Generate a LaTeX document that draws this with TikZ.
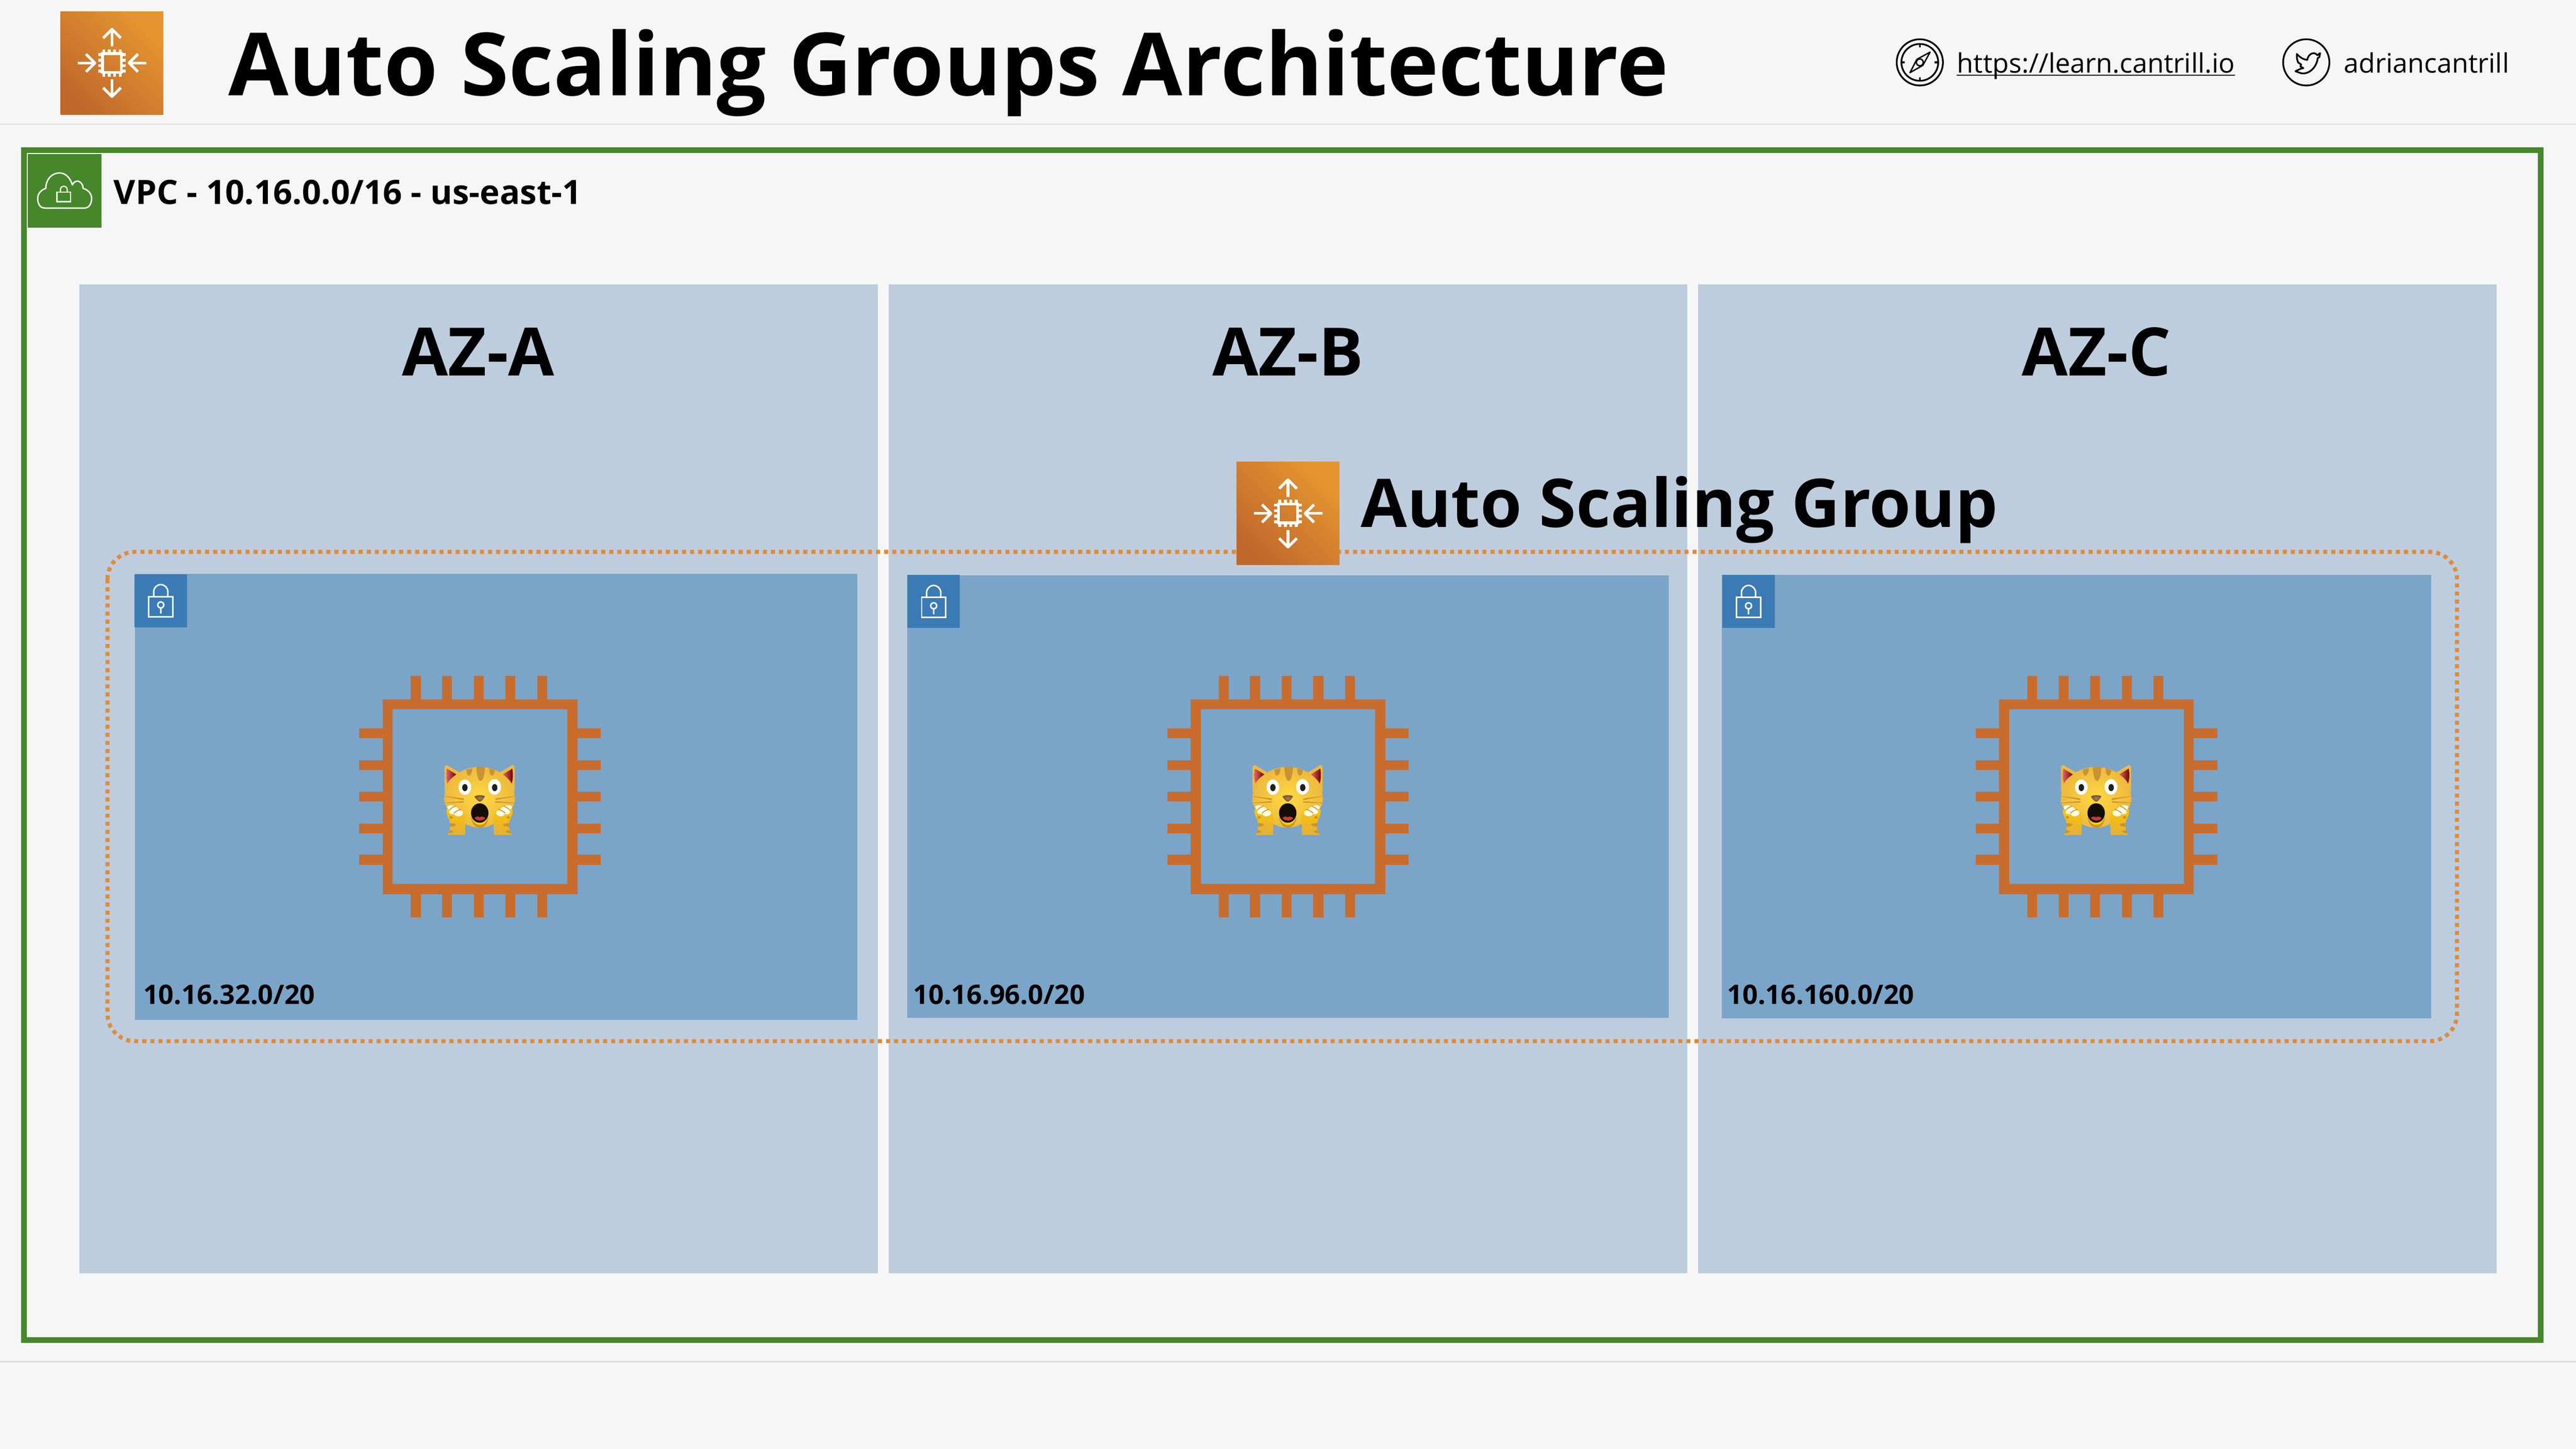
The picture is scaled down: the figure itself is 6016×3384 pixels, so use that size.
\documentclass[tikz,border=0pt]{standalone}
\usepackage{fontspec}
\setmainfont{Open Sans}

\definecolor{slidebg}{HTML}{F6F6F6}
\definecolor{rulegrey}{HTML}{DDDDDD}
\definecolor{vpcgreen}{HTML}{46872B}
\definecolor{azblue}{HTML}{BDCDDE}
\definecolor{subnetblue}{HTML}{7AA4C8}
\definecolor{lockblue}{HTML}{3B7BB5}
\definecolor{asgorange}{HTML}{E28A35}
\definecolor{chiporange}{HTML}{C86C2E}
\definecolor{catyellow}{HTML}{EDB93E}
\definecolor{catstripe}{HTML}{C99232}

\tikzset{
  titletext/.style={font=\fontsize{50.95pt}{60pt}\selectfont\bfseries,anchor=base west,inner sep=0pt},
  vpctext/.style={font=\fontsize{19.6pt}{24pt}\selectfont\bfseries,anchor=base west,inner sep=0pt},
  aztext/.style={font=\fontsize{39pt}{46pt}\selectfont\bfseries,anchor=base,inner sep=0pt},
  asgtext/.style={font=\fontsize{39.2pt}{46pt}\selectfont\bfseries,anchor=base west,inner sep=0pt},
  subnettext/.style={font=\fontsize{15.65pt}{19pt}\selectfont\bfseries,anchor=base west,inner sep=0pt},
  linktext/.style={font=\fontsize{15.65pt}{19pt}\selectfont,anchor=base west,inner sep=0pt},
  % auto scaling icon, coordinates are 3x
  pics/asgicon/.style={code={
    \shade[bottom color=chiporange!96!black,top color=asgorange!90!yellow,shading angle=-45] (-360,-361) rectangle (360,361);
    \foreach \a in {0,180} {
      \begin{scope}[rotate=\a]
        %left and right point in, up and down point out
        \draw[white,line width=1.6pt] (-240,0) -- (-118,0);
        \draw[white,line width=1.6pt,line join=round] (-182,-62) -- (-120,0) -- (-182,62);
        \draw[white,line width=1.6pt] (0,-116) -- (0,-236);
        \draw[white,line width=1.6pt,line join=round] (-62,-174) -- (0,-236) -- (62,-174);
      \end{scope}
    }
    \foreach \a in {0,90,180,270} {
      \begin{scope}[rotate=\a]
        \foreach \p in {-58,-19,19,58}
          \fill[white] (\p-10,-96) rectangle (\p+10,-66);
      \end{scope}
    }
    \draw[white,line width=1.6pt,fill=none] (-66,-66) rectangle (66,66);
  }},
  % subnet lock icon
  pics/lockicon/.style={code={
    \fill[lockblue] (-61.5,-62) rectangle (61.5,62);
    \draw[white,line width=0.85pt] (-28,-9.5) rectangle (28,37.5);
    \draw[white,line width=0.85pt] (-16.5,-9.5) -- (-16.5,-21) arc (180:360:16.5) -- (16.5,-9.5);
    \draw[white,line width=0.85pt] (0,10) circle (7) (0,17) -- (0,30);
  }},
  % ec2 instance chip
  pics/chipicon/.style={code={
    \draw[chiporange,line width=5.9pt] (-215.5,-215.5) rectangle (215.5,215.5);
    \foreach \p in {-150,-77,-3,71,145}
      \draw[chiporange,line width=5.8pt] (\p,-282) -- (\p,-225) (\p,225) -- (\p,282);
    \foreach \p in {-148,-74,0,74,147}
      \draw[chiporange,line width=5.8pt] (-282,\p) -- (-225,\p) (225,\p) -- (282,\p);
  }},
  % cat emoji, coordinates are 3x
  pics/catface/.style={code={
    \foreach \s in {1,-1} {
      \begin{scope}[xscale=\s]
        \fill[catyellow,line join=round] (-245,-40) -- (-246,-205) .. controls (-245,-228) and (-232,-232) .. (-222,-224) -- (-130,-170) -- cycle;
        \shade[left color=red!55!white!90!black,right color=red!40!black] (-229,-203) -- (-162,-162) .. controls (-190,-145) and (-215,-120) .. (-225,-98) .. controls (-235,-130) and (-235,-170) .. cycle;
      \end{scope}
    }
    \shade[inner color=yellow!60!orange!75!white,outer color=catyellow] (0,-215) .. controls (140,-215) and (247,-120) .. (247,15) .. controls (247,100) and (100,212) .. (0,212) .. controls (-100,212) and (-247,100) .. (-247,15) .. controls (-247,-120) and (-140,-215) .. cycle;
    %stripes
    \fill[catstripe] (-23,-214) .. controls (-20,-160) and (-10,-117) .. (7,-117) .. controls (25,-117) and (35,-160) .. (38,-214) .. controls (20,-216) and (-5,-216) .. cycle;
    \fill[catstripe] (-93,-195) .. controls (-90,-170) and (-85,-154) .. (-75,-154) .. controls (-62,-154) and (-52,-175) .. (-50,-205) .. controls (-65,-203) and (-80,-200) .. cycle;
    \fill[catstripe] (67,-205) .. controls (69,-175) and (75,-154) .. (87,-154) .. controls (97,-154) and (103,-170) .. (108,-190) .. controls (95,-197) and (80,-203) .. cycle;
    %eyes and nose
    \fill[white] (-103,-73) ellipse (44 and 54) (105,-75) ellipse (45 and 55);
    \fill[black!88] (-103,-70) ellipse (19 and 25) (106,-70) ellipse (19 and 25);
    \shade[inner color=brown!60!gray,outer color=brown!60!black] (-36,-8) .. controls (-15,-20) and (15,-20) .. (38,-10) .. controls (25,15) and (12,28) .. (2,28) .. controls (-10,28) and (-25,12) .. cycle;
    %chin and mouth
    \fill[catstripe] (-60,140) .. controls (-50,190) and (-25,212) .. (2,212) .. controls (30,212) and (55,190) .. (62,140) -- cycle;
    \fill[yellow!70!orange] (-58,130) .. controls (-50,170) and (-25,192) .. (2,192) .. controls (30,192) and (52,170) .. (60,130) -- cycle;
    \fill[black!90!brown] (1,108) ellipse (61 and 68);
    \fill[red!55!gray] (-36,142) .. controls (-25,132) and (-10,130) .. (1,138) .. controls (12,130) and (28,132) .. (40,145) .. controls (25,165) and (-20,168) .. cycle;
    \foreach \s in {1,-1} {
      \begin{scope}[xscale=\s]
        %whiskers
        \fill[catstripe] (-282,-15) -- (-110,6) -- (-112,17) -- cycle;
        \fill[catstripe] (-287,40) -- (-110,25) -- (-110,35) -- cycle;
        %arm
        \shade[top color=yellow!55!orange,bottom color=catyellow!95!black] (-225,263) -- (-102,263) -- (-98,140) .. controls (-100,105) and (-135,65) .. (-190,60) .. controls (-225,62) and (-235,85) .. (-232,105) .. controls (-228,130) and (-212,150) .. (-208,170) .. controls (-205,205) and (-205,225) .. cycle;
        \fill[catstripe] (-212,128) .. controls (-200,130) and (-188,132) .. (-186,138) .. controls (-190,146) and (-200,149) .. (-206,150) -- cycle;
        \fill[catstripe] (-208,180) .. controls (-190,178) and (-170,182) .. (-164,190) .. controls (-172,200) and (-190,204) .. (-206,204) -- cycle;
        \fill[catstripe] (-212,228) .. controls (-200,228) and (-186,232) .. (-183,238) .. controls (-190,246) and (-205,250) .. (-218,250) -- cycle;
        %claws
        \fill[white!92!yellow,rotate around={-15:(-188,75)}] (-188,75) ellipse (40 and 19);
        \fill[white!92!yellow,rotate around={15:(-178,95)}] (-178,95) ellipse (37 and 20);
        \fill[white!92!yellow,rotate around={10:(-146,110)}] (-146,110) ellipse (30 and 21);
        \draw[catstripe,line width=0.5pt] (-210,85) .. controls (-195,72) and (-185,65) .. (-168,60);
        \draw[catstripe,line width=0.5pt] (-180,110) .. controls (-165,95) and (-150,88) .. (-130,82);
      \end{scope}
    }
  }}
}

\begin{document}
\begin{tikzpicture}[x=0.25pt,y=-0.25pt]
\useasboundingbox (0,0) rectangle (6016,3384);

%draws background and header
\fill[slidebg] (0,0) rectangle (6016,3384);
\draw[rulegrey,line width=0.8pt] (0,290) -- (6016,290) (0,3181) -- (6016,3181);
\pic[scale=0.3333] at (261.5,147) {asgicon};
\node[titletext] (title) at (533,223) {Auto Scaling Groups Architecture};

%compass and link
\begin{scope}[shift={(4483.5,145.7)}]
  \draw[line width=1pt] (0,0) circle (54) (0,0) circle (43);
  \draw[line width=1pt] (0,-43) -- (0,-35) (0,43) -- (0,35) (-43,0) -- (-35,0) (43,0) -- (35,0);
  \draw[line width=0.8pt,line join=round] (24,-24) -- (7,7) -- (-23,24) -- (-7,-7) -- cycle;
  \draw[line width=0.8pt,fill=slidebg] (0,0) circle (8);
\end{scope}
\node[linktext] (weblink) at (4570,170) {https://learn.cantrill.io};
\draw[line width=0.75pt] ([yshift=-1.4pt]weblink.base west) -- ([yshift=-1.4pt]weblink.base east);

%bird and handle
\draw[line width=1pt] (5386,145.7) circle (54);
\begin{scope}[shift={(5386,145.7)},scale=0.3333]
  \draw[line width=1pt,line join=round] (-66,-59) .. controls (-45,-35) and (-20,-20) .. (7,-17) .. controls (10,-50) and (50,-85) .. (78,-50) -- (97,-65) -- (92,-37) -- (80,-30) .. controls (75,30) and (20,90) .. (-40,75) -- (-76,62) -- (-40,45) -- (-20,40) -- (-42,28) -- (-35,15) -- (-58,0) -- (-66,-30) -- cycle;
\end{scope}
\node[linktext] (handle) at (5473,170) {adriancantrill};

%vpc
\draw[vpcgreen,line width=3.25pt] (55.5,350.5) rectangle (5933.5,3130.5);
\fill[vpcgreen] (65,360) rectangle (237,532);
\draw[white,line width=0.8pt,line join=round] (105,486) .. controls (92,486) and (88,474) .. (88,463) .. controls (88,452) and (97,443) .. (107,440) .. controls (107,420) and (120,404) .. (139,404) .. controls (155,404) and (165,418) .. (169,432) .. controls (172,425) and (177,423) .. (182,423) .. controls (190,425) and (194,432) .. (194,440) .. controls (205,443) and (214,452) .. (214,463) .. controls (214,476) and (208,486) .. (197,486) -- cycle;
\draw[white,line width=0.7pt] (133,449) rectangle (165,471);
\draw[white,line width=0.7pt] (141,449) -- (141,443) arc (180:360:8) -- (157,449);
\node[vpctext] (vpclabel) at (265,477) {VPC - 10.16.0.0/16 - us-east-1};

%availability zones
\fill[azblue] (185,664) rectangle (2050,2974);
\fill[azblue] (2075,664) rectangle (3941,2974);
\fill[azblue] (3966,664) rectangle (5831,2974);
\node[aztext] (aza) at (1117,878) {AZ-A};
\node[aztext] (azb) at (3008,878) {AZ-B};
\node[aztext] (azc) at (4896,878) {AZ-C};

%auto scaling group, under the subnets
\draw[asgorange,line width=2.37pt,dash pattern=on 2.37pt off 2.35pt,rounded corners=16pt] (251,1289) rectangle (5738,2432);

%subnets
\fill[subnetblue] (315,1340) rectangle (2002,2382);
\fill[subnetblue] (2119,1344) rectangle (3897,2378);
\fill[subnetblue] (4021,1343) rectangle (5678,2379);
\pic at (375.5,1403) {lockicon};
\pic at (2180.5,1405) {lockicon};
\pic at (4083.5,1405) {lockicon};
\node[subnettext] (neta) at (334,2346) {10.16.32.0/20};
\node[subnettext] (netb) at (2132,2346) {10.16.96.0/20};
\node[subnettext] (netc) at (4033,2346) {10.16.160.0/20};

%instances
\foreach \x in {1121,3008,4896} {
  \pic at (\x,1861) {chipicon};
  \pic[scale=0.3333] at (\x-1,1863) {catface};
}

%asg label on top
\pic[scale=0.3333] at (3008,1199.3) {asgicon};
\node[asgtext] (asglabel) at (3177,1231) {Auto Scaling Group};
\end{tikzpicture}
\end{document}
